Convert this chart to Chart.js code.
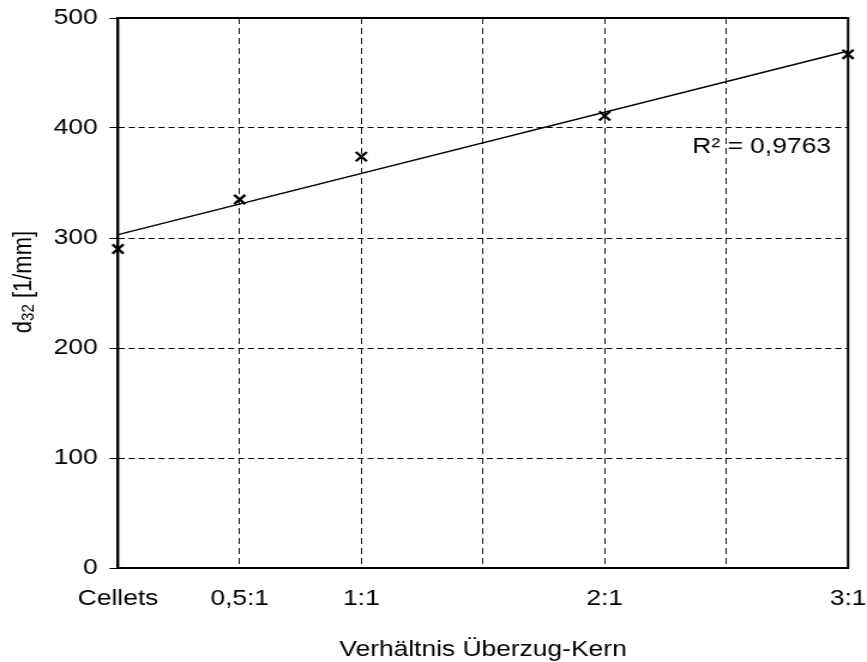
<!DOCTYPE html>
<html>
<head>
<meta charset="utf-8">
<script src="https://cdn.jsdelivr.net/npm/chart.js@4"></script>
<style>
  html, body { margin: 0; padding: 0; background: #fff; }
</style>
</head>
<body>
<canvas id="chart" width="723" height="662" style="display:block;width:867px;height:662px"></canvas>
<script>
// x-Positionen (Verhältnis Überzug:Kern, Cellets = 0)
var ratioValues = [0, 0.5, 1, 2, 3];
var ratioLabels = ['Cellets', '0,5:1', '1:1', '2:1', '3:1'];
// d32 [1/mm]
var d32Values = [290, 335, 374, 411, 467];
// lineare Trendlinie
var trendX = [0, 3];
var trendY = [303, 470];
var rSquaredText = 'R² = 0,9763';
var rLabelPos = [2.36, 377];
var yTicks = [0, 100, 200, 300, 400, 500];

var FONT = '"Liberation Sans", Arial, sans-serif';

var framePlugin = {
  id: 'frame',
  beforeDraw: function(chart) {
    var ctx = chart.ctx;
    ctx.save();
    ctx.fillStyle = '#fff';
    ctx.fillRect(0, 0, chart.width, chart.height);
    ctx.restore();
  },
  beforeDatasetsDraw: function(chart) {
    var ctx = chart.ctx, a = chart.chartArea;
    ctx.save();
    ctx.strokeStyle = '#000';
    ctx.lineWidth = 2;
    ctx.strokeRect(a.left, a.top, a.right - a.left, a.bottom - a.top);
    ctx.restore();
  },
  afterDatasetsDraw: function(chart) {
    var ctx = chart.ctx, a = chart.chartArea;
    var xs = chart.scales.x, ys = chart.scales.y;
    ctx.save();
    ctx.fillStyle = '#000';
    // R² Beschriftung
    ctx.font = '22px ' + FONT;
    ctx.textAlign = 'left';
    ctx.textBaseline = 'alphabetic';
    ctx.fillText(rSquaredText, xs.getPixelForValue(rLabelPos[0]), ys.getPixelForValue(rLabelPos[1]));

    // x-Achsentitel
    ctx.textAlign = 'center';
    ctx.fillText('Verhältnis Überzug-Kern', (a.left + a.right) / 2, 656);

    // y-Achsentitel mit Index
    ctx.translate(26.4, 282);
    ctx.rotate(-Math.PI / 2);
    ctx.textAlign = 'left';
    ctx.font = '22px ' + FONT;
    var w1 = ctx.measureText('d').width;
    var w3 = ctx.measureText(' [1/mm]').width;
    ctx.font = '15px ' + FONT;
    var w2 = ctx.measureText('32').width;
    var x0 = -(w1 + w2 + w3) / 2;
    ctx.font = '22px ' + FONT;
    ctx.fillText('d', x0, 0);
    ctx.font = '15px ' + FONT;
    ctx.fillText('32', x0 + w1, 2);
    ctx.font = '22px ' + FONT;
    ctx.fillText(' [1/mm]', x0 + w1 + w2, 0);
    ctx.restore();
  }
};

var ctx = document.getElementById('chart').getContext('2d');
new Chart(ctx, {
  type: 'scatter',
  data: {
    datasets: [{
      label: 'd32',
      data: ratioValues.map(function(x, i) { return { x: x, y: d32Values[i] }; }),
      pointStyle: 'crossRot',
      pointRadius: 6.5,
      pointHoverRadius: 6.5,
      borderColor: '#000',
      backgroundColor: '#000',
      pointBorderWidth: 2.3,
      showLine: false
    }, {
      type: 'line',
      label: 'Trend',
      data: trendX.map(function(x, i) { return { x: x, y: trendY[i] }; }),
      borderColor: '#000',
      borderWidth: 1.4,
      pointRadius: 0,
      fill: false
    }]
  },
  plugins: [framePlugin],
  options: {
    responsive: false,
    animation: false,
    events: [],
    clip: false,
    layout: { padding: { left: 0, top: 18, right: 15.8, bottom: 0 } },
    plugins: { legend: { display: false }, tooltip: { enabled: false } },
    scales: {
      x: {
        type: 'linear',
        min: 0,
        max: 3,
        afterFit: function(s) { s.height = 94; s.paddingLeft = 0; s.paddingRight = 0; },
        border: { display: true, color: '#000', width: 2, dash: [6, 4] },
        grid: {
          color: '#000',
          lineWidth: 0.9,
          drawTicks: false
        },
        ticks: {
          stepSize: 0.5,
          autoSkip: false,
          maxRotation: 0,
          padding: 18,
          color: '#000',
          font: { family: FONT, size: 22 },
          callback: function(v) {
            var i = ratioValues.indexOf(v);
            return i >= 0 ? ratioLabels[i] : '';
          }
        }
      },
      y: {
        min: 0,
        max: 500,
        afterFit: function(s) { s.width = 98.4; s.paddingTop = 0; s.paddingBottom = 0; },
        afterBuildTicks: function(s) { s.ticks = yTicks.map(function(v) { return { value: v }; }); },
        border: { display: true, color: '#000', width: 2, dash: [5, 3.3] },
        grid: {
          color: '#000',
          lineWidth: 1,
          tickLength: 7,
          tickBorderDash: [],
          tickColor: '#000',
          tickWidth: 1
        },
        ticks: {
          padding: 10,
          color: '#000',
          font: { family: FONT, size: 22 }
        }
      }
    }
  }
});
</script>
</body>
</html>
